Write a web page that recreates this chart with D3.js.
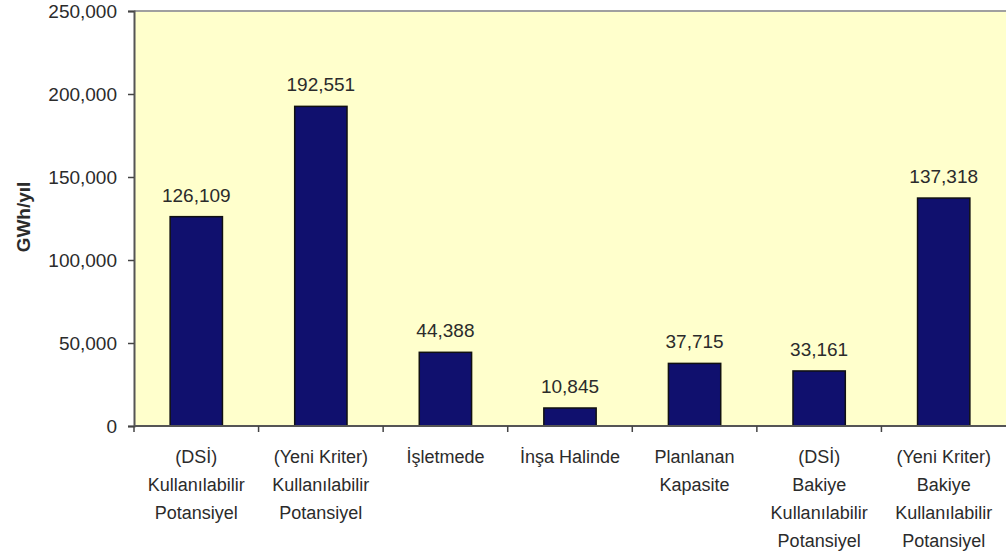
<!DOCTYPE html>
<html>
<head>
<meta charset="utf-8">
<script src="https://cdn.jsdelivr.net/npm/d3@7"></script>
<style>
  body { margin: 0; background: #ffffff; }
  text { font-family: "Liberation Sans", Arial, sans-serif; fill: #2b2b2b; }
</style>
</head>
<body>
<div id="chart"></div>
<script>
var categories = [
  ["(DSİ)", "Kullanılabilir", "Potansiyel"],
  ["(Yeni Kriter)", "Kullanılabilir", "Potansiyel"],
  ["İşletmede"],
  ["İnşa Halinde"],
  ["Planlanan", "Kapasite"],
  ["(DSİ)", "Bakiye", "Kullanılabilir", "Potansiyel"],
  ["(Yeni Kriter)", "Bakiye", "Kullanılabilir", "Potansiyel"]
];
var values = [126109, 192551, 44388, 10845, 37715, 33161, 137318];
var yTicks = [0, 50000, 100000, 150000, 200000, 250000];
var yTitle = "GWh/yıl";

var width = 1006, height = 558;
var plotLeft = 134, plotRight = 1006, plotTop = 11, plotBottom = 426;

var svg = d3.select("#chart").append("svg")
            .attr("width", width)
            .attr("height", height);

var x = d3.scaleBand()
          .domain(d3.range(values.length))
          .range([plotLeft, plotRight])
          .paddingInner(0.58)
          .paddingOuter(0.29);

var y = d3.scaleLinear()
          .domain([0, 250000])
          .range([plotBottom, plotTop]);

// plot background
svg.append("rect")
   .attr("x", plotLeft)
   .attr("y", plotTop)
   .attr("width", plotRight - plotLeft)
   .attr("height", plotBottom - plotTop)
   .style("fill", "#ffffcc");

svg.append("line")
   .attr("x1", plotLeft).attr("x2", plotRight)
   .attr("y1", plotTop).attr("y2", plotTop)
   .style("stroke", "#a0a0a0")
   .style("stroke-width", 2);

// bars
svg.selectAll(".bar")
   .data(values)
   .enter()
   .append("rect")
   .attr("class", "bar")
   .attr("x", function (d, i) { return x(i); })
   .attr("y", function (d) { return y(d); })
   .attr("width", x.bandwidth())
   .attr("height", function (d) { return y(0) - y(d); })
   .style("fill", "#10106e")
   .style("stroke", "#111111")
   .style("stroke-width", 1.5);

// value labels
svg.selectAll(".val")
   .data(values)
   .enter()
   .append("text")
   .attr("class", "val")
   .attr("x", function (d, i) { return x(i) + x.bandwidth() / 2; })
   .attr("y", function (d) { return y(d) - 15; })
   .attr("text-anchor", "middle")
   .style("font-size", "19px")
   .text(function (d) { return d3.format(",")(d); });

// y axis
var yAxis = svg.append("g")
   .attr("transform", "translate(" + plotLeft + ",0)")
   .call(d3.axisLeft(y).tickValues(yTicks).tickFormat(d3.format(",")).tickSize(6).tickPadding(11));
yAxis.select(".domain").style("stroke", "#555").style("stroke-width", 2);
yAxis.selectAll(".tick line").style("stroke", "#444").style("stroke-width", 1.5);
yAxis.selectAll(".tick text")
     .style("font-size", "19px")
     .style("font-family", "'Liberation Sans', Arial, sans-serif")
     .style("fill", "#2b2b2b");

// x axis line and ticks between categories
svg.append("line")
   .attr("x1", plotLeft).attr("x2", plotRight)
   .attr("y1", plotBottom).attr("y2", plotBottom)
   .style("stroke", "#555")
   .style("stroke-width", 2);

var step = x.step();
svg.selectAll(".xtick")
   .data(d3.range(values.length))
   .enter()
   .append("line")
   .attr("class", "xtick")
   .attr("x1", function (d) { return plotLeft + d * step; })
   .attr("x2", function (d) { return plotLeft + d * step; })
   .attr("y1", plotBottom)
   .attr("y2", plotBottom + 6)
   .style("stroke", "#444")
   .style("stroke-width", 1.5);

// category labels
var cats = svg.selectAll(".cat")
   .data(categories)
   .enter()
   .append("text")
   .attr("class", "cat")
   .attr("text-anchor", "middle")
   .style("font-size", "18px");

cats.selectAll("tspan")
    .data(function (d, i) { return d.map(function (s) { return { s: s, i: i }; }); })
    .enter()
    .append("tspan")
    .attr("x", function (d) { return x(d.i) + x.bandwidth() / 2; })
    .attr("y", function (d, j) { return 463 + j * 28; })
    .text(function (d) { return d.s; });

// y title
svg.append("text")
   .attr("transform", "translate(30,217) rotate(-90)")
   .attr("text-anchor", "middle")
   .style("font-size", "19px")
   .style("font-weight", "bold")
   .text(yTitle);
</script>
</body>
</html>
